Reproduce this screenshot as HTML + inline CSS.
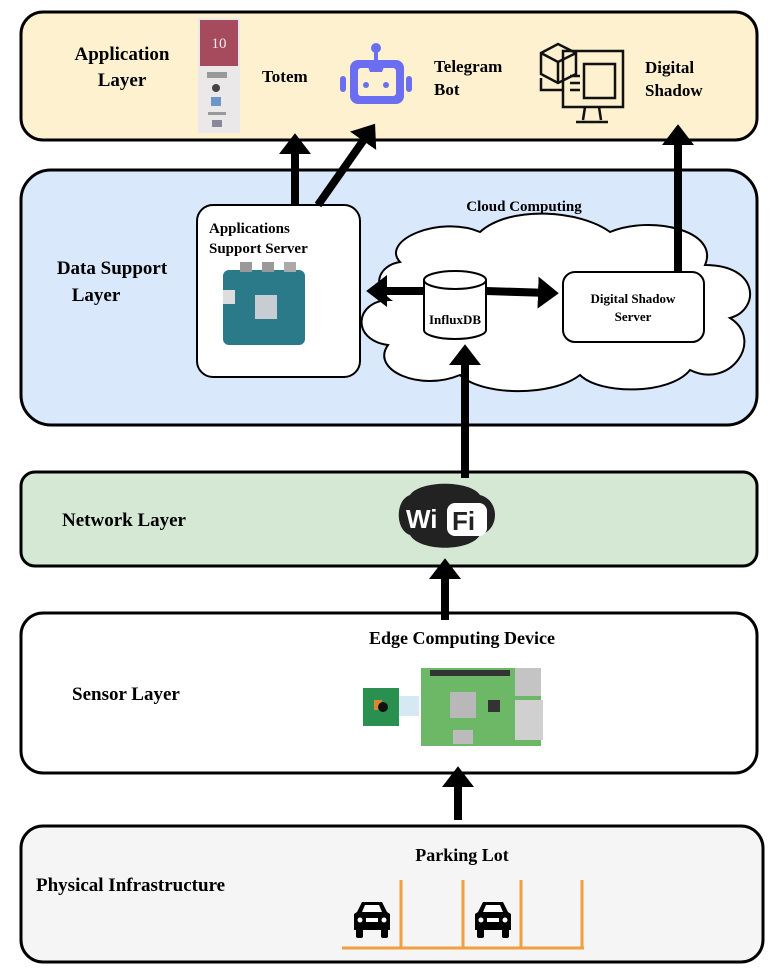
<!DOCTYPE html>
<html><head><meta charset="utf-8"><style>
body{margin:0;background:#fff}
svg{display:block;font-family:"Liberation Serif",serif;font-weight:bold}
</style></head><body>
<svg width="775" height="980" viewBox="0 0 775 980">
<defs>
<marker id="ah" markerWidth="4" markerHeight="4" refX="1.5" refY="2" orient="auto" markerUnits="strokeWidth">
<path d="M0,0 L2.6,2 L0,4 Z" fill="#000"/></marker>
</defs>
<rect x="21" y="12" width="736" height="128" rx="22" fill="#fdf1d0" stroke="#000" stroke-width="3"/>
<rect x="21" y="170" width="736" height="255" rx="30" fill="#dae8fc" stroke="#000" stroke-width="3"/>
<rect x="21" y="472" width="736" height="94" rx="14" fill="#d5e8d4" stroke="#000" stroke-width="3"/>
<rect x="21" y="613" width="736" height="160" rx="22" fill="#fff" stroke="#000" stroke-width="3"/>
<rect x="21" y="826" width="742" height="136" rx="22" fill="#f5f5f5" stroke="#000" stroke-width="3"/>

<g font-size="19">
<text x="122" y="60" text-anchor="middle">Application</text>
<text x="122" y="86" text-anchor="middle">Layer</text>
<text x="112" y="274" text-anchor="middle">Data Support</text>
<text x="96" y="301" text-anchor="middle">Layer</text>
<text x="62" y="526">Network Layer</text>
<text x="72" y="700">Sensor Layer</text>
<text x="36" y="891">Physical Infrastructure</text>
</g>
<g font-size="17">
<text x="262" y="82">Totem</text>
<text x="434" y="72">Telegram</text>
<text x="434" y="95">Bot</text>
<text x="645" y="73">Digital</text>
<text x="645" y="96">Shadow</text>
</g>

<!-- totem -->
<rect x="198" y="18" width="42" height="115" fill="#ebe8ea"/>
<rect x="200" y="20" width="38" height="46" fill="#a64a5e"/>
<text x="219" y="48" font-size="15" fill="#eee" text-anchor="middle" font-weight="normal">10</text>
<rect x="207" y="72" width="20" height="6" fill="#999"/>
<circle cx="216" cy="88" r="4" fill="#444"/>
<rect x="211" y="97" width="10" height="9" fill="#6d96c8"/>
<rect x="208" y="112" width="18" height="3" fill="#999"/>
<rect x="212" y="120" width="10" height="7" fill="#889"/>
<!-- bot -->
<g fill="#6b6ef0">
<circle cx="376" cy="48" r="5"/>
<rect x="374" y="50" width="4" height="12"/>
<rect x="350" y="60" width="54" height="44" rx="8"/>
<rect x="340" y="76" width="6" height="16" rx="3"/>
<rect x="406" y="76" width="6" height="16" rx="3"/>
</g>
<rect x="358" y="68" width="38" height="28" rx="3" fill="#fdf1d0"/>
<path d="M366,62 L386,62 L382,72 L370,72 Z" fill="#6b6ef0"/>
<circle cx="366" cy="85" r="3" fill="#6b6ef0"/><circle cx="386" cy="85" r="3" fill="#6b6ef0"/>
<!-- digital shadow icon -->
<g fill="none" stroke="#111" stroke-width="2.5">
<rect x="563" y="51" width="60" height="56"/>
<rect x="584" y="64" width="31" height="34"/>
<path d="M541,53 L558,44 L576,53 L576,74 L558,83 L541,74 Z M541,53 L558,62 L576,53 M558,62 L558,83"/>
<path d="M541,78 L541,90 L563,90 M570,76 L580,76 M570,83 L580,83 M570,90 L580,90"/>
<path d="M585,107 L583,120 M599,107 L601,120 M576,122 L608,122"/>
</g>

<!-- app support server -->
<rect x="197" y="205" width="163" height="172" rx="16" fill="#fff" stroke="#000" stroke-width="2"/>
<text x="209" y="233" font-size="15">Applications</text>
<text x="209" y="253" font-size="15">Support Server</text>
<rect x="223" y="270" width="82" height="75" rx="6" fill="#2a7a8a"/>
<rect x="255" y="295" width="22" height="24" fill="#c7cdd2"/>
<rect x="223" y="290" width="12" height="14" fill="#ddd"/>
<rect x="240" y="262" width="12" height="10" fill="#999"/><rect x="262" y="262" width="12" height="10" fill="#999"/><rect x="284" y="262" width="12" height="10" fill="#aaa"/>

<!-- cloud -->
<path d="M400,262 C380,240 440,215 480,232 C510,205 580,210 610,232 C650,215 720,230 705,265 C760,265 760,310 730,318 C765,340 730,390 690,370 C670,395 600,395 580,375 C550,398 480,395 460,375 C420,392 370,370 388,345 C350,340 355,300 390,300 C370,285 380,265 400,262 Z" fill="#fff" stroke="#000" stroke-width="2"/>
<text x="524" y="211" font-size="15" text-anchor="middle">Cloud Computing</text>
<path d="M424,280 L424,330 A31,9 0 0 0 486,330 L486,280" fill="#fff" stroke="#000" stroke-width="2"/>
<ellipse cx="455" cy="280" rx="31" ry="9" fill="#fff" stroke="#000" stroke-width="2"/>
<text x="455" y="324" font-size="13" text-anchor="middle">InfluxDB</text>
<rect x="563" y="272" width="141" height="70" rx="12" fill="#fff" stroke="#000" stroke-width="2"/>
<text x="633" y="303" font-size="13" text-anchor="middle">Digital Shadow</text>
<text x="633" y="321" font-size="13" text-anchor="middle">Server</text>

<g stroke="#000" stroke-width="8" marker-end="url(#ah)">
<line x1="295" y1="205" x2="295" y2="142"/>
<line x1="318" y1="205" x2="370" y2="131"/>
<line x1="678" y1="272" x2="678" y2="133"/>
<line x1="424" y1="291" x2="375" y2="291"/>
<line x1="486" y1="291" x2="550" y2="293"/>
<line x1="465" y1="478" x2="465" y2="353"/>
<line x1="445" y1="620" x2="445" y2="567"/>
<line x1="458" y1="820" x2="458" y2="775"/>
</g>

<!-- wifi -->
<path d="M410,495 C420,480 470,480 480,495 C500,500 500,530 480,535 C470,552 420,552 410,535 C395,530 395,500 410,495 Z" fill="#222"/>
<text x="406" y="528" font-size="26" fill="#fff" font-family="Liberation Sans,sans-serif">Wi</text>
<rect x="447" y="503" width="40" height="33" rx="8" fill="#fff"/>
<text x="452" y="530" font-size="26" fill="#222" font-family="Liberation Sans,sans-serif">Fi</text>

<!-- edge -->
<text x="462" y="644" font-size="18" text-anchor="middle">Edge Computing Device</text>
<rect x="363" y="688" width="36" height="38" fill="#2a9050"/>
<rect x="374" y="700" width="8" height="10" fill="#d98a30"/>
<circle cx="383" cy="707" r="5" fill="#111"/>
<rect x="399" y="696" width="20" height="20" fill="#d6e8f2"/>
<rect x="421" y="668" width="120" height="78" fill="#6cb866"/>
<rect x="430" y="670" width="80" height="6" fill="#333"/>
<rect x="450" y="692" width="26" height="26" fill="#b8b8b8"/>
<rect x="488" y="700" width="12" height="12" fill="#333"/>
<rect x="515" y="668" width="26" height="28" fill="#c4c4c4"/>
<rect x="515" y="700" width="28" height="40" fill="#d0d0d0"/>
<rect x="453" y="730" width="20" height="14" fill="#bbb"/>

<!-- parking -->
<text x="462" y="861" font-size="18" text-anchor="middle">Parking Lot</text>
<g stroke="#f0a040" stroke-width="3" fill="none">
<path d="M342,948 L584,948 M401,880 L401,948 M463,880 L463,948 M521,880 L521,948 M582,880 L582,948"/>
</g>
<g fill="#000">
<path d="M357,912 L362,902 L382,902 L387,912 L390,914 L390,930 L354,930 L354,914 Z"/>
<rect x="356" y="928" width="7" height="10" rx="2"/><rect x="381" y="928" width="7" height="10" rx="2"/>
<path d="M478,912 L483,902 L503,902 L508,912 L511,914 L511,930 L475,930 L475,914 Z"/>
<rect x="477" y="928" width="7" height="10" rx="2"/><rect x="502" y="928" width="7" height="10" rx="2"/>
</g>
<g fill="#fff">
<path d="M362,912 L365,905 L379,905 L382,912 Z"/><circle cx="360" cy="920" r="2.5"/><circle cx="384" cy="920" r="2.5"/><rect x="366" y="918" width="12" height="4"/>
<path d="M483,912 L486,905 L500,905 L503,912 Z"/><circle cx="481" cy="920" r="2.5"/><circle cx="505" cy="920" r="2.5"/><rect x="487" y="918" width="12" height="4"/>
</g>
</svg>
</body></html>
